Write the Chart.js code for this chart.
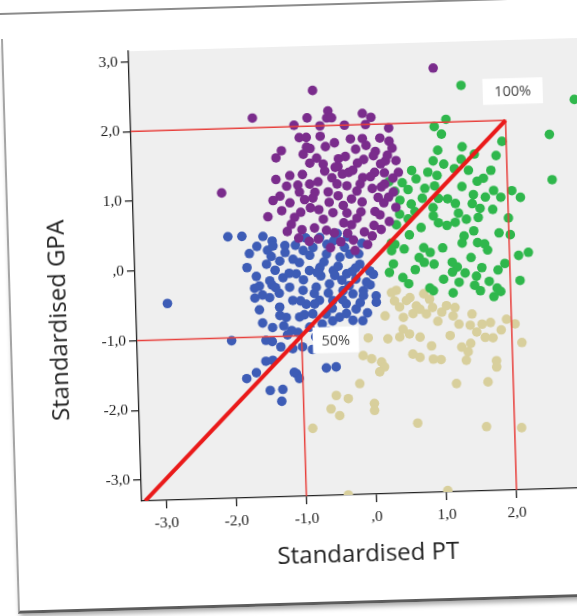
<!DOCTYPE html>
<html>
<head>
<meta charset="utf-8">
<script src="https://cdn.jsdelivr.net/npm/chart.js@4/dist/chart.umd.min.js"></script>
<style>
  html, body { margin: 0; padding: 0; background: #fff; overflow: hidden; width: 577px; height: 616px; }
  #page { position: absolute; left: 0; top: 0; width: 720px; height: 640px;
          transform-origin: 377px 270px; transform: rotate(-1.7deg); }
  .topline { position: absolute; left: -60px; top: 2px; width: 820px; height: 2px; background: #8c8c8c; }
  .card { position: absolute; left: 8px; top: 28px; width: 760px; height: 572px;
          border-left: 2px solid #a5a5a5; border-bottom: 3px solid #5c5c5c;
          box-shadow: 0 5px 5px -2px rgba(0,0,0,0.35); background: #fff; }
  #chart { position: absolute; left: 0; top: 0; }
</style>
</head>
<body>
<div id="page">
  <div class="topline"></div>
  <div class="card"></div>
  <canvas id="chart" width="660" height="616"></canvas>
</div>
<script>
// axis ranges and ticks
const xMin = -3.35, xMax = 3.3;
const yMin = -3.3, yMax = 3.15;
const tickValues = [-3, -2, -1, 0, 1, 2, 3];
const tickLabels = ['-3,0', '-2,0', '-1,0', ',0', '1,0', '2,0', '3,0'];
const xTitle = 'Standardised PT';
const yTitle = 'Standardised GPA';

// cut points (100% and 50%)
const cutLabels = ['100%', '50%'];
const cutX = [2, -1];
const cutY = [2, -1];
const diagStart = [-3.3, -3.3];

// groups [PT, GPA]
const purplePts = [
  [-0.74,2.51],[-1.61,2.14],[-0.83,2.12],[-0.53,2.21],[-0.55,2.11],[-0.48,2.11],[-0.04,2.16],[0.08,2.10],[-1.02,2.02],[0.33,1.94],
  [-0.95,1.84],[-0.85,1.84],[-0.80,1.68],[-0.58,1.70],[-0.22,1.80],[-0.05,1.80],[0.00,1.70],[0.13,1.61],[0.33,1.75],[0.37,1.65],
  [-1.21,1.66],[-1.29,1.56],[-0.71,1.54],[-0.62,1.45],[-0.81,1.47],[-0.40,1.52],[-0.41,1.41],[-0.13,1.45],[-0.04,1.50],[0.20,1.43],
  [0.27,1.47],[0.42,1.47],[-0.92,1.31],[-0.35,1.30],[-0.26,1.32],[-0.06,1.24],[0.11,1.31],[0.37,1.22],[-0.99,1.16],[-0.82,1.17],
  [-0.43,1.16],[-0.29,1.13],[0.07,1.08],[0.25,1.14],[0.37,1.02],[-2.08,1.08],[-1.25,1.01],[-1.11,0.91],[-0.97,1.06],[-0.78,0.97],
  [-0.56,1.05],[-0.42,0.99],[-0.23,0.94],[-0.08,0.89],[0.23,0.87],[-1.23,0.80],[-1.43,0.72],[-0.96,0.77],[-0.82,0.83],[-0.64,0.66],
  [-0.30,0.74],[-0.16,0.66],[0.08,0.55],[0.17,0.70],[-1.16,0.50],[-0.95,0.52],[-0.77,0.54],[-0.49,0.46],[-0.24,0.57],[-0.06,0.46],
  [0.18,0.49],[-0.72,0.38],[-0.40,0.33],[-0.22,0.35],[-0.02,0.28],[0.99,2.78],
  [-0.30,1.55],[-0.15,1.05],[0.05,1.25],[-0.70,1.20],[-1.10,1.30],[-0.50,0.75],[0.25,1.30],[0.10,0.75],[-0.85,0.35],[-1.05,0.70],
  [0.30,0.95],[-0.35,0.60],[-0.60,1.35],[0.20,1.10],
  [-0.90,1.60],[-0.65,1.85],[-0.45,1.75],[-0.15,1.65],[0.20,1.80],[0.45,1.30],[-1.15,1.15],[-1.35,0.95],[-0.70,0.80],[-0.55,0.90],
  [-0.35,0.85],[-0.10,1.15],[0.15,0.95],[0.40,0.80],[-0.90,0.95],[-1.00,0.40],[-0.60,0.50],[-0.30,0.45],[0.05,0.40],[0.30,0.60],
  [-0.20,1.35],[-0.50,1.25],[-0.75,1.05],[0.00,2.00],[-0.30,2.00],[-0.65,2.00],[-0.10,0.75],[-0.45,1.40],[0.10,1.55],[-1.30,1.25],
  [-0.85,1.70],[0.30,1.55],[-0.20,0.20],[-0.55,0.25],[-1.10,0.60]
];
const bluePts = [
  [-2.01,0.45],[-1.81,0.45],[-2.90,-0.48],[-1.51,0.44],[-1.38,0.37],[-1.71,0.20],[-1.45,0.24],[-1.40,0.15],[-1.62,-0.13],[-1.58,-0.27],
  [-1.40,-0.26],[-1.65,-0.44],[-1.54,-0.40],[-1.44,-0.44],[-1.59,-0.61],[-2.00,-1.04],[-1.42,-1.07],[-1.52,-1.35],[-1.66,-1.51],[-1.80,-1.59],
  [-1.47,-1.77],[-1.29,-1.76],[-1.31,-1.93],[-1.13,-1.18],[-1.09,-1.54],[-1.05,-1.61],
  [-1.37,0.30],[-1.47,0.04],[-1.28,0.08],[-1.09,0.10],[-0.94,0.22],[-0.80,0.26],[-0.61,0.16],[-0.42,0.11],[-0.28,0.15],[-0.14,0.00],
  [0.00,-0.10],[-0.05,-0.26],[-0.20,-0.21],[-0.33,-0.13],[-0.52,-0.08],[-0.71,-0.03],[-0.86,-0.07],[-1.05,-0.11],[-1.24,-0.16],[-1.43,-0.20],
  [-1.15,-0.30],[-0.96,-0.35],[-0.77,-0.31],[-0.58,-0.27],[-0.39,-0.37],[-0.25,-0.42],[-0.10,-0.38],[0.08,-0.46],[0.08,-0.55],[-1.11,-0.49],
  [-0.92,-0.55],[-0.73,-0.50],[-0.54,-0.51],[-0.35,-0.56],[-0.21,-0.64],[-1.30,-0.58],[-1.21,-0.73],[-1.02,-0.73],[-0.83,-0.69],[-0.64,-0.70],
  [-0.45,-0.75],[-0.26,-0.80],[-0.12,-0.81],[-1.41,-0.87],[-1.14,-0.92],[-0.88,-0.88],[-0.70,-0.84],[-1.51,-1.05],[-1.42,-1.34],[-1.12,-1.52],
  [-0.66,-1.47],[-0.52,-1.46],[-0.99,-1.16],
  [-0.50,0.35],[-0.30,0.40],[-0.10,0.30],[-0.90,0.40],[-1.20,0.30],[-1.00,0.05],[-0.70,-0.15],[-0.40,-0.22],[-0.20,-0.05],[-0.55,-0.62],
  [-0.80,-0.40],[-0.30,-0.30],[0.00,-0.30],[-0.65,0.05],[-0.45,-0.02],[-1.30,-0.38],[-1.20,-0.98],[-0.80,-1.02],[-0.62,-0.95],
  [-1.35,-0.05],[-1.20,0.20],[-1.05,0.30],[-0.85,0.15],[-0.60,0.30],[-0.35,0.25],[-0.15,0.15],[-0.25,-0.10],[-0.50,-0.15],[-0.75,-0.10],
  [-0.95,-0.20],[-1.15,-0.10],[-1.35,-0.30],[-1.00,-0.50],[-0.80,-0.55],[-0.60,-0.40],[-0.40,-0.50],[-0.15,-0.55],[-0.05,-0.70],[-0.35,-0.70],
  [-0.55,-0.80],[-0.95,-0.70],[-1.30,-0.70],[-1.55,-0.80],[-1.25,-0.85],[-1.05,-0.95],[-0.85,-1.20],[-1.30,-1.15],[-1.65,-0.30],[-1.75,0.00],
  [-0.70,0.40],[-0.45,0.45],[-1.60,0.30],[0.05,-0.15],[-0.10,-0.45]
];
const greenPts = [
  [1.38,2.52],[2.99,2.27],[2.62,1.78],[2.64,1.13],[1.15,2.04],[0.98,1.94],[1.08,1.83],[1.94,1.70],[1.37,1.64],[1.02,1.60],
  [1.54,1.53],[1.35,1.46],[1.77,1.29],[0.87,1.29],[1.00,1.24],[0.64,1.32],[1.57,1.14],[1.66,1.18],[1.35,1.07],[1.25,1.33],
  [0.58,1.05],[0.82,1.06],[0.96,1.09],[2.06,0.99],[2.18,0.89],[1.90,0.90],[1.51,0.95],[1.68,0.91],[1.78,0.73],
  [0.93,0.78],[1.01,0.91],[1.14,0.90],[1.25,0.83],[1.29,0.69],[1.24,0.56],[1.12,0.52],[1.00,0.56],[0.93,0.66],
  [0.62,0.84],[0.67,0.73],[0.57,0.63],[0.78,0.92],[1.49,0.82],[1.57,0.62],[2.02,0.36],[1.86,0.39],[1.50,0.43],[1.36,0.36],
  [1.33,0.26],[1.55,0.26],[1.65,0.24],[0.58,0.40],[0.37,0.27],[0.32,0.18],[0.40,0.55],[0.78,0.21],[0.87,0.14],[0.71,0.07],
  [0.78,0.00],[0.92,-0.03],[1.69,0.15],[2.13,0.06],[2.27,0.10],[1.18,-0.01],[1.25,-0.08],[1.18,-0.15],[1.36,-0.17],[1.60,-0.10],
  [1.83,-0.14],[1.93,-0.05],[2.14,-0.30],[0.34,-0.01],[0.47,-0.21],[0.55,-0.30],[0.85,-0.37],[1.27,-0.30],[1.49,-0.35],[1.81,-0.40],
  [0.28,-0.13],[0.32,0.29],[0.90,-0.41],[1.18,-0.45],[1.57,-0.43],[1.76,-0.52],[1.86,-0.45],[1.52,-0.22],[0.39,1.03],[0.31,1.17],[0.46,0.90],
  [0.50,1.15],[0.70,1.20],[1.10,1.40],[1.45,1.30],[1.80,1.00],[1.60,0.75],[1.40,0.60],[0.75,0.50],[0.50,0.20],[1.05,0.20],
  [1.45,0.05],[1.70,-0.30],[0.65,-0.10],[1.05,-0.25],[2.00,0.60],[0.45,0.70],[1.85,1.50],[0.95,1.45]
];
const beigePts = [
  [0.37,-0.39],[0.56,-0.50],[0.41,-0.63],[0.65,-0.62],[0.79,-0.74],[0.46,-0.78],[0.60,-0.73],[0.88,-0.65],[0.84,-0.53],[1.01,-0.72],
  [1.20,-0.66],[1.17,-0.78],[1.44,-0.76],[1.58,-0.91],[1.70,-0.89],[0.34,-0.54],[0.51,-0.54],[0.70,-0.67],[0.76,-0.45],[1.08,-0.63],
  [1.41,-0.92],[0.30,-0.42],[1.93,-0.85],[2.05,-0.92],[2.14,-1.19],[1.50,-1.02],[1.62,-1.10],[1.73,-1.11],[1.12,-1.06],[1.28,-1.23],
  [1.41,-1.18],[1.37,-1.30],[1.34,-1.42],[1.77,-1.44],[1.77,-1.53],[1.64,-1.74],[1.19,-1.75],[1.60,-2.38],[2.10,-2.41],[0.62,-2.30],
  [1.02,-3.28],[-0.05,-1.06],[0.23,-1.08],[0.40,-1.06],[0.54,-1.02],[0.69,-1.07],[0.58,-1.31],[0.68,-1.36],[0.87,-1.39],[0.98,-1.40],
  [-0.13,-1.31],[-0.01,-1.36],[0.13,-1.41],[0.17,-1.48],[0.10,-1.55],[-0.19,-1.71],[-0.53,-1.87],[-0.36,-1.92],[-0.61,-2.06],[-0.49,-2.16],
  [0.01,-2.00],[0.01,-2.10],[-0.88,-2.33],[-0.40,-3.30],
  [0.95,-0.85],[1.25,-0.90],[0.20,-0.75],[0.45,-0.95],[1.85,-1.00],[0.85,-1.20]
];

const toXY = pts => pts.map(p => ({x: p[0], y: p[1]}));

const groups = [
  {pts: purplePts, color: '#7a2c8c'},
  {pts: bluePts, color: '#3d5cb6'},
  {pts: greenPts, color: '#2fb74c'},
  {pts: beigePts, color: '#d8cf9c'}
];

const datasets = [];
// red lines on top
datasets.push({
  data: [{x: diagStart[0], y: diagStart[1]}, {x: cutX[0], y: cutY[0]}],
  showLine: true, borderColor: '#ea1a1a', borderWidth: 4, pointRadius: 0, order: 0
});
for (let i = 0; i < cutX.length; i++) {
  datasets.push({
    data: [{x: xMin, y: cutY[i]}, {x: cutX[i], y: cutY[i]}, {x: cutX[i], y: yMin}],
    showLine: true, borderColor: '#e8403c', borderWidth: 1.5, pointRadius: 0, order: 0
  });
}
groups.forEach((g, i) => {
  datasets.push({
    data: toXY(g.pts),
    backgroundColor: g.color, borderColor: g.color,
    pointRadius: 4.8, pointBorderWidth: 0, pointHoverRadius: 4.8, order: i + 1
  });
});

function tickText(v) {
  const i = tickValues.indexOf(Math.round(v * 100) / 100);
  return i < 0 ? '' : tickLabels[i];
}

const plotBg = {
  id: 'plotBg',
  beforeDraw(chart) {
    const a = chart.chartArea, ctx = chart.ctx;
    ctx.save();
    ctx.fillStyle = '#efefef';
    ctx.fillRect(a.left, a.top, a.right - a.left, a.bottom - a.top);
    ctx.restore();
  }
};

const cutText = {
  id: 'cutText',
  afterDatasetsDraw(chart) {
    const ctx = chart.ctx, xs = chart.scales.x, ys = chart.scales.y;
    const boxes = [{dx: 8, dy: -29, w: 60}, {dx: 34, dy: 5, w: 46}];
    ctx.save();
    ctx.font = '14.5px "Open Sans"';
    ctx.textAlign = 'center';
    ctx.textBaseline = 'middle';
    for (let i = 0; i < cutLabels.length; i++) {
      const cx = xs.getPixelForValue(cutX[i]) + boxes[i].dx;
      const cy = ys.getPixelForValue(cutY[i]) + boxes[i].dy;
      ctx.fillStyle = '#ffffff';
      ctx.fillRect(cx - boxes[i].w / 2, cy - 13, boxes[i].w, 26);
      ctx.fillStyle = '#454545';
      ctx.fillText(cutLabels[i], cx, cy + 1);
    }
    ctx.restore();
  },
  afterDraw(chart) {
    const ctx = chart.ctx, a = chart.chartArea;
    ctx.save();
    ctx.fillStyle = '#1e1e1e';
    ctx.font = '24px "Open Sans"';
    ctx.textAlign = 'center';
    ctx.textBaseline = 'middle';
    ctx.fillText(xTitle, (a.left + a.right) / 2 - 8, a.bottom + 60);
    ctx.translate(a.left - 77, (a.top + a.bottom) / 2 + 42);
    ctx.rotate(-Math.PI / 2);
    ctx.fillText(yTitle, 0, 0);
    ctx.restore();
  }
};

const axisStyle = {
  grid: {display: true, drawOnChartArea: false, drawTicks: true, tickLength: 8, color: '#222', lineWidth: 1.3},
  border: {display: true, color: '#222', width: 1.3},
  title: {display: false}
};

new Chart(document.getElementById('chart'), {
  type: 'scatter',
  data: {datasets: datasets},
  options: {
    responsive: false,
    animation: false,
    devicePixelRatio: 1,
    layout: {padding: {left: 0, top: 44, right: 59, bottom: 0}},
    plugins: {legend: {display: false}, tooltip: {enabled: false}},
    scales: {
      x: Object.assign({}, axisStyle, {
        type: 'linear', position: 'bottom', min: xMin, max: xMax,
        ticks: {stepSize: 1, includeBounds: false, autoSkip: false, maxRotation: 0, padding: 6,
                color: '#1e1e1e', font: {family: '"Liberation Serif"', size: 15.5}, callback: tickText},
        afterFit(scale) { scale.height = 122; }
      }),
      y: Object.assign({}, axisStyle, {
        type: 'linear', position: 'left', min: yMin, max: yMax,
        ticks: {stepSize: 1, includeBounds: false, autoSkip: false, padding: 3,
                color: '#1e1e1e', font: {family: '"Liberation Serif"', size: 15.5}, callback: tickText},
        afterFit(scale) { scale.width = 135; }
      })
    }
  },
  plugins: [plotBg, cutText]
});
</script>
</body>
</html>
